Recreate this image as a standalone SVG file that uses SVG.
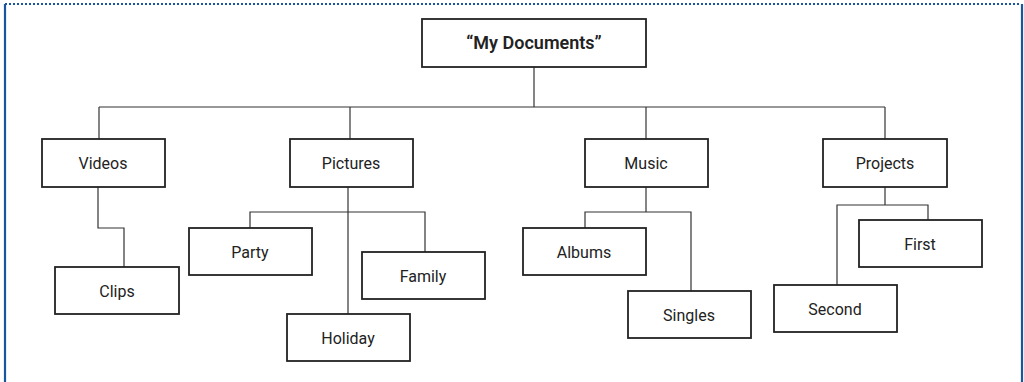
<svg xmlns="http://www.w3.org/2000/svg" width="1024" height="382" viewBox="0 0 1024 382">
<style>
.box{fill:#fff;stroke:#222;stroke-width:1.8}
.lbl{font-family:Roboto,"Liberation Sans",sans-serif;font-size:16px;fill:#222;text-anchor:middle}
.root{font-weight:600;font-size:18px}
.con{fill:none;stroke:#333;stroke-width:1.2}
</style>
<rect width="1024" height="382" fill="#fff"/>
<g id="frame">
<line x1="5" y1="4" x2="1021" y2="4" stroke="#1a56a0" stroke-width="2" stroke-dasharray="2,2"/>
<line x1="5" y1="4" x2="5" y2="382" stroke="#1a56a0" stroke-width="2.2"/>
<line x1="1022" y1="4" x2="1022" y2="382" stroke="#1a56a0" stroke-width="2.2"/>
</g>
<g id="connectors" class="con">
<polyline points="534,67 534,107"/>
<polyline points="99,107 885,107"/>
<polyline points="99,107 99,139"/>
<polyline points="350,107 350,139"/>
<polyline points="646,107 646,139"/>
<polyline points="885,107 885,139"/>
<polyline points="98,187 98,228 124,228 124,267"/>
<polyline points="348,187 348,314"/>
<polyline points="250,228 250,212 425,212 425,252"/>
<polyline points="646,187 646,212"/>
<polyline points="585,228 585,212 691,212 691,291"/>
<polyline points="885,187 885,205"/>
<polyline points="837,285 837,205 928,205 928,220"/>
</g>
<g id="root"><rect class="box" x="422" y="19" width="224" height="48"/><text class="lbl root" x="534" y="49">“My Documents”</text></g>
<g id="videos"><rect class="box" x="42" y="139" width="123" height="48"/><text class="lbl" x="103" y="169">Videos</text></g>
<g id="pictures"><rect class="box" x="290" y="139" width="123" height="48"/><text class="lbl" x="351" y="169">Pictures</text></g>
<g id="music"><rect class="box" x="585" y="139" width="123" height="48"/><text class="lbl" x="646" y="169">Music</text></g>
<g id="projects"><rect class="box" x="823" y="139" width="124" height="48"/><text class="lbl" x="885" y="169">Projects</text></g>
<g id="clips"><rect class="box" x="55" y="267" width="124" height="47"/><text class="lbl" x="117" y="297">Clips</text></g>
<g id="party"><rect class="box" x="189" y="228" width="123" height="47"/><text class="lbl" x="250" y="258">Party</text></g>
<g id="family"><rect class="box" x="362" y="252" width="123" height="47"/><text class="lbl" x="423" y="282">Family</text></g>
<g id="holiday"><rect class="box" x="287" y="314" width="123" height="47"/><text class="lbl" x="348" y="344">Holiday</text></g>
<g id="albums"><rect class="box" x="523" y="228" width="123" height="47"/><text class="lbl" x="584" y="258">Albums</text></g>
<g id="singles"><rect class="box" x="628" y="291" width="123" height="47"/><text class="lbl" x="689" y="321">Singles</text></g>
<g id="first"><rect class="box" x="859" y="220" width="123" height="47"/><text class="lbl" x="920" y="250">First</text></g>
<g id="second"><rect class="box" x="774" y="285" width="123" height="47"/><text class="lbl" x="835" y="315">Second</text></g>
</svg>
